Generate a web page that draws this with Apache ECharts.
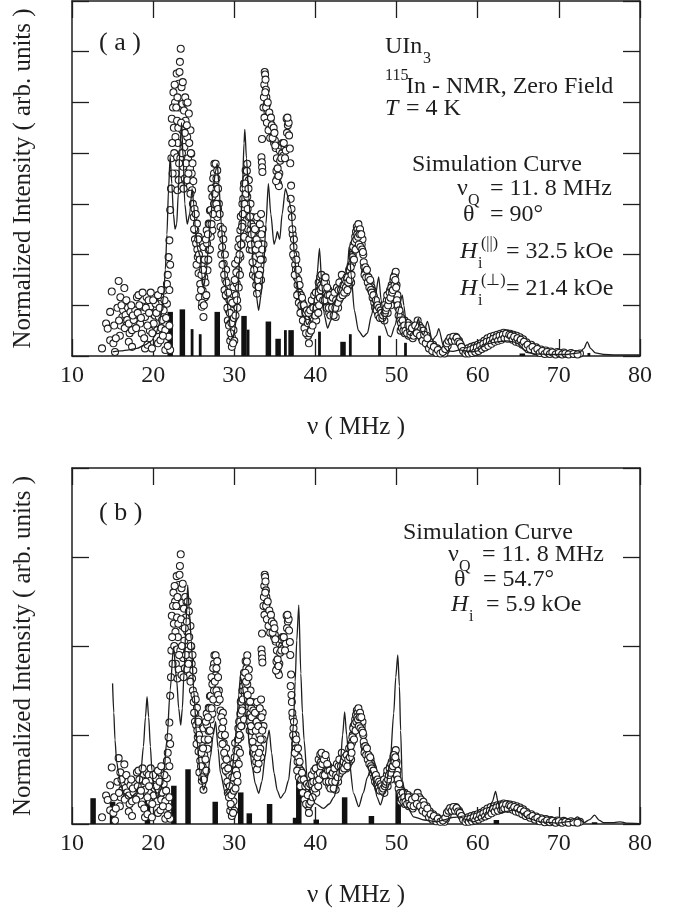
<!DOCTYPE html>
<html>
<head>
<meta charset="utf-8">
<script src="https://cdn.jsdelivr.net/npm/echarts@6/dist/echarts.min.js"></script>
<style>
html,body{margin:0;padding:0;background:#fff;}
#chart{width:682px;height:915px;}
</style>
</head>
<body>
<div id="chart"></div>
<script>
// ---------- DATA ----------
const xTicks = [10, 20, 30, 40, 50, 60, 70, 80];

// Experimental 115In zero-field NMR spectrum (frequency MHz, intensity in panel-(a) units), sweep 1
const expPoints = [
[13.7,0.15],[14.2,0.64],[14.4,0.54],[14.7,0.31],[14.7,0.87],[14.9,1.27],[15.1,0.25],[15.3,0.08],[15.6,0.95],[15.75,1.48],[15.9,0.4],[15.96,1.16],
[16.0,0.6],[16.2,0.77],[16.3,0.9],[16.45,1.34],[16.5,0.55],[16.6,0.81],[16.8,0.71],[16.9,0.95],[17.0,0.64],[17.0,0.28],[17.1,0.45],[17.2,0.87],
[17.4,0.51],[17.4,0.18],[17.6,0.71],[17.8,0.9],[18.0,1.16],[18.2,1.2],[18.4,0.64],[18.6,0.44],[18.8,0.97],[18.9,0.35],[19.0,0.77],[19.0,0.15],
[19.2,1.16],[19.3,0.22],[19.45,1.1],[19.6,0.5],[19.65,0.97],[19.85,0.84],[19.85,0.15],[20.07,0.64],[20.2,0.8],[20.3,1.03],[20.5,0.51],[20.6,0.25],
[20.7,0.77],[20.9,1.16],[20.9,0.31],[21.0,0.55],[21.1,0.71],[21.3,0.9],[21.3,1.29],[21.5,0.51],[21.5,0.12],[21.7,1.42],[21.7,1.03],[21.9,1.95],
[21.9,0.38],[22.0,2.28],[22.1,2.88],[22.1,0.12],
[22.2,3.3],[22.25,3.9],[22.3,4.68],[22.5,5.2],[22.6,4.0],[22.7,5.0],[22.75,4.32],[22.8,3.6],[22.9,5.57],[22.95,4.64],[22.95,3.92],[23.0,3.27],
[23.05,4.2],[23.15,5.37],[23.15,3.47],[23.25,4.9],[23.3,5.8],[23.35,3.9],[23.4,6.06],[23.5,5.3],[23.5,3.35],[23.6,4.97],[23.6,4.45],[23.7,3.73],
[23.8,4.84],[23.85,4.12],[23.9,3.5],[24.0,4.64],[24.1,5.0],[24.2,4.32],[24.2,3.47],[24.3,3.9],[24.4,4.78],[24.4,3.79],[24.5,3.34],[24.55,3.7],
[24.6,4.45],[24.7,3.99],[24.75,3.6],[24.8,3.27],[24.9,3.0],[25.0,2.74],[25.1,2.9],[25.15,2.3],[25.2,2.48],[25.3,2.22],[25.4,2.61],[25.45,2.1],
[25.5,1.95],[25.6,1.63],[25.6,2.35],[25.7,1.16],[25.8,1.42],[26.0,1.82],[26.0,0.97],[26.1,1.29],[26.2,0.77],[26.2,2.15],[26.3,1.55],[26.4,1.16],
[26.6,1.88],[26.6,2.48],[26.65,2.22],[26.7,1.69],[26.85,2.61],[26.85,2.09],[27.0,2.87],[27.1,2.88],[27.1,2.35],[27.3,3.14],[27.3,2.48],[27.5,3.6],
[27.5,3.0],[27.55,3.79],[27.7,3.79],[27.7,3.34],[27.9,3.66],[27.9,2.74],[28.1,3.0],[28.3,2.55],
[28.5,2.15],[28.6,2.5],[28.7,1.82],[28.8,1.3],[28.9,1.5],[29.0,1.7],[29.1,1.17],[29.2,0.7],[29.3,0.9],[29.4,1.1],[29.5,0.64],[29.5,0.3],
[29.6,0.9],[29.7,0.38],[29.7,0.18],[29.8,0.7],[29.9,0.51],[29.9,1.36],[30.0,0.3],[30.1,1.03],[30.1,1.82],[30.2,1.2],[30.3,1.43],[30.4,0.95],
[30.5,2.15],[30.5,1.69],[30.6,2.3],[30.75,2.48],[30.75,1.95],[30.9,2.2],[31.0,3.0],[31.0,2.61],[31.1,3.1],[31.2,3.4],[31.2,2.35],[31.3,2.9],
[31.4,3.66],[31.5,3.5],[31.6,3.79],[31.6,3.14],[31.7,2.5],[31.8,3.47],[31.8,2.74],[31.9,2.1],[32.0,3.0],[32.0,2.48],[32.1,2.6],[32.2,2.74],
[32.2,2.09],[32.3,1.6],[32.4,2.35],[32.4,1.82],[32.5,2.2],[32.6,1.95],[32.6,1.56],[32.7,1.4],[32.8,2.74],[32.8,1.23],[32.9,1.8],[33.0,2.48],
[33.0,1.36],[33.1,2.0],[33.2,2.22],[33.2,1.69],[33.3,2.8],[33.3,1.5],[33.35,3.92],[33.4,3.82],[33.43,3.72],[33.47,3.63],[33.42,4.28],[33.5,2.5],
[33.5,1.9],[33.6,2.2],
[33.6,4.9],[33.7,5.35],[33.75,5.6],[33.8,5.55],[33.85,5.45],[33.9,5.25],[33.95,5.1],[34.0,4.95],[34.05,5.0],[34.1,4.8],[34.15,4.65],[34.25,4.75],
[34.35,4.6],[34.45,4.65],[34.55,4.5],[34.65,4.4],[34.8,4.35],[34.9,4.2],[35.0,4.25],[35.1,4.1],[35.2,3.65],[35.3,3.5],[35.4,3.4],[35.5,3.35],
[35.55,3.6],[35.6,4.05],[35.75,4.15],[35.9,4.0],[36.05,3.95],[36.2,4.1],[36.35,4.05],[36.45,4.68],[36.6,4.55],[36.7,4.6],[36.85,4.09],[37.0,3.36],
[37.1,2.74],[37.2,2.4],[37.3,2.15],[37.4,1.95],[37.5,1.8],[37.55,2.0],[37.6,1.7],[37.7,1.55],[37.8,1.4],[37.9,1.5],[38.0,1.25],[38.1,1.1],
[38.2,1.2],[38.3,0.95],[38.4,1.05],[38.5,0.85],[38.6,0.9],[38.7,0.7],[38.8,0.6],[38.9,0.75],[39.0,0.5],[39.1,0.4],[39.2,0.25],[39.3,0.55],
[39.4,0.65],[39.5,0.8],[39.6,0.95],[39.7,0.75],[39.8,1.05],[39.9,0.85],[40.0,1.0],[40.1,0.7],[40.2,0.9],[40.3,1.2],[40.4,1.45],[40.5,1.3],
[40.6,1.56],[40.7,1.4],[40.8,1.2],[40.9,1.5],[41.0,1.3],[41.1,1.55],[41.2,1.25],[41.3,1.45],[41.4,1.17],[41.5,1.0],[41.6,1.3],[41.7,0.85],
[41.8,1.1],[41.9,0.95],[42.0,1.2],[42.1,0.8],[42.2,1.05],[42.3,0.9],[42.4,1.15],[42.5,0.77],[42.6,1.0],[42.7,1.25],[42.8,0.95],[42.9,1.1],
[43.0,1.3],[43.1,1.45],[43.2,1.25],[43.3,1.5],[43.4,1.35],[43.5,1.56],[43.6,1.3],[43.7,1.45],[43.8,1.25],[43.9,1.5],[44.0,1.35],[44.1,1.55],
[44.2,1.4],[44.3,1.6],[44.4,1.45],[44.5,1.82],[44.6,2.0],[44.7,2.2],[44.8,2.1],[44.9,2.35],[45.0,2.45],[45.1,2.55],[45.2,2.5],[45.3,2.6],
[45.4,2.45],[45.5,2.5],[45.6,2.35],[45.7,2.2],[45.8,2.3],[45.9,2.0],[46.0,1.76],[46.1,1.65],[46.2,1.7],[46.3,1.6],[46.4,1.55],[46.5,1.5],
[46.6,1.45],[46.7,1.4],[46.8,1.45],[46.9,1.36],[47.0,1.3],[47.1,1.25],[47.2,1.17],[47.3,1.1],[47.4,1.0],[47.5,1.05],[47.6,0.95],[47.7,0.85],
[47.8,0.9],[47.9,0.8],[48.0,0.85],[48.1,0.77],[48.2,0.82],[48.3,0.9],[48.4,0.9],[48.5,0.7],[48.6,1.0],[48.8,1.1],[48.9,0.85],[49.0,1.2],
[49.2,1.3],[49.3,1.0],[49.4,1.4],[49.6,1.5],[49.7,1.2],[49.8,1.6],[49.9,1.66],[50.0,1.4],[50.1,1.2],[50.2,0.95],[50.4,0.85],[50.5,0.5],
[50.6,0.75],[50.8,0.6],[51.0,0.7],[51.0,0.45],[51.2,0.55],[51.4,0.65],[51.5,0.4],[51.6,0.5],[51.8,0.6],[52.0,0.45],[52.0,0.35],[52.2,0.55],
[52.4,0.5],[52.6,0.7],[52.7,0.45],[52.8,0.6],[53.0,0.55],[53.1,0.35],[53.3,0.5],[53.5,0.3],[53.7,0.4],[53.9,0.2],[54.1,0.28],[54.3,0.15],
[54.5,0.22],[54.8,0.1],[55.0,0.15],[55.3,0.06],[55.6,0.1],[55.9,0.05],[56.1,0.12],[56.3,0.2],[56.5,0.28],[56.7,0.33],[56.9,0.36],[57.1,0.35],
[57.3,0.38],[57.5,0.33],[57.7,0.3],[57.9,0.22],[58.1,0.15],[58.4,0.1],[58.6,0.06],[58.8,0.15],[59.0,0.08],[59.2,0.18],[59.4,0.1],[59.6,0.2],
[59.8,0.12],[60.0,0.22],[60.2,0.15],[60.4,0.25],[60.6,0.18],[60.8,0.3],[61.0,0.22],[61.2,0.35],[61.4,0.26],[61.6,0.38],[61.8,0.3],[62.0,0.4],
[62.2,0.32],[62.4,0.42],[62.6,0.35],[62.8,0.44],[63.0,0.37],[63.2,0.46],[63.4,0.4],[63.6,0.45],[63.8,0.38],[64.0,0.44],[64.2,0.36],[64.4,0.42],
[64.6,0.33],[64.8,0.4],[65.0,0.3],[65.2,0.37],[65.4,0.27],[65.6,0.33],[65.8,0.22],[66.0,0.27],[66.3,0.17],[66.6,0.22],[66.9,0.12],[67.2,0.17],
[67.5,0.08],[67.8,0.13],[68.1,0.06],[68.4,0.11],[68.7,0.05],[69.0,0.09],[69.4,0.05],[69.8,0.08],[70.2,0.04],[70.6,0.07],[71.0,0.04],[71.5,0.06],
[72.0,0.04],[72.6,0.05]
];

// Experimental spectrum, overlapping sweep 2 (same units)
const expPointsSweep2 = [
[15.2,0.6],[15.4,0.35],[15.8,0.7],[16.1,1.0],[16.7,1.1],[17.3,1.0],[17.5,0.8],[17.9,0.55],[18.1,0.85],[18.3,1.0],[18.5,0.75],[18.7,1.25],
[19.1,0.95],[19.3,0.6],[19.5,0.85],[19.7,1.25],[19.9,0.45],[20.0,1.1],[20.4,0.85],[20.6,1.2],[20.8,0.95],[21.0,1.3],[21.2,0.4],[21.4,1.1],
[21.6,0.75],[21.8,1.6],[21.8,0.2],[22.0,0.6],[22.0,1.3],[22.1,1.8],
[22.35,4.2],[22.4,3.6],[22.45,4.9],[22.55,4.5],[22.65,5.35],[22.85,4.9],[23.0,5.1],[23.1,4.5],[23.2,3.8],[23.25,5.6],[23.45,4.6],[23.55,4.0],
[23.65,5.4],[23.75,3.3],[23.9,4.4],[23.95,5.1],[24.05,3.8],[24.15,4.55],[24.25,5.0],[24.35,3.6],[24.45,4.2],[24.6,3.2],[24.65,4.0],[24.85,3.8],
[24.95,3.45],[25.05,2.5],[25.25,2.8],[25.35,1.8],[25.55,2.3],[25.65,2.0],[25.75,1.9],[25.9,1.3],[25.95,1.6],[26.05,1.05],[26.15,1.7],[26.25,1.0],
[26.35,1.9],[26.45,1.45],[26.5,2.3],[26.55,1.2],[26.75,2.4],[26.8,1.9],[26.95,2.6],[27.0,2.1],[27.2,3.3],[27.2,2.6],[27.4,2.8],[27.4,3.5],
[27.6,3.2],[27.8,3.5],[27.8,3.0],[28.0,3.3],[28.0,2.9],[28.2,2.8],[28.4,2.4],[28.4,2.0],
[28.55,1.8],[28.65,2.3],[28.75,1.6],[28.85,2.0],[28.95,1.2],[29.05,1.45],[29.15,0.95],[29.25,1.25],[29.35,0.6],[29.45,0.85],[29.55,0.45],[29.65,0.65],
[29.75,1.05],[29.85,0.25],[29.95,0.75],[30.05,1.5],[30.15,0.8],[30.25,1.65],[30.35,1.1],[30.45,1.9],[30.55,1.35],[30.65,2.0],[30.7,1.6],[30.8,2.75],
[30.85,2.2],[30.95,2.55],[31.05,2.8],[31.15,3.3],[31.25,3.0],[31.35,3.4],[31.45,3.2],[31.55,3.65],[31.65,2.9],[31.75,3.3],[31.85,2.3],[31.95,2.75],
[32.05,2.2],[32.15,2.4],[32.25,1.85],[32.35,2.55],[32.45,1.7],[32.55,2.5],[32.65,2.1],[32.75,2.3],[32.85,1.5],[32.95,2.2],[33.05,1.6],[33.15,2.6],
[33.25,1.9],[33.35,2.4],[33.45,2.1],
[33.65,5.1],[33.72,4.7],[33.82,5.2],[33.92,4.9],[34.02,4.6],[34.12,5.0],[34.22,4.45],[34.32,4.8],[34.42,4.3],[34.52,4.7],[34.62,4.55],[34.72,4.3],
[34.85,4.5],[34.95,4.4],[35.05,4.15],[35.15,3.45],[35.25,3.9],[35.35,3.7],[35.45,3.55],[35.65,3.85],[35.8,3.9],[35.95,4.2],[36.1,4.2],[36.25,3.9],
[36.5,4.4],[36.55,4.7],[36.75,4.35],[36.9,3.8],[36.95,3.1],
[37.05,2.9],[37.15,2.5],[37.25,2.0],[37.35,2.3],[37.45,1.6],[37.65,1.9],[37.75,1.2],[37.85,1.7],[37.95,1.05],[38.05,1.4],[38.15,0.85],[38.25,1.0],
[38.35,1.15],[38.45,0.7],[38.55,1.0],[38.65,0.55],[38.75,0.85],[38.85,0.45],[38.95,0.9],[39.05,0.65],[39.15,0.85],[39.25,0.45],[39.35,0.9],[39.45,0.5],
[39.55,1.1],[39.65,0.6],[39.75,0.95],[39.85,1.2],[39.95,0.8],[40.05,1.25],[40.15,0.95],[40.25,1.1],[40.35,0.85],[40.45,1.0],[40.55,1.15],[40.65,1.3],
[40.75,1.6],[40.85,1.35],[40.95,1.1],[41.05,1.45],[41.15,1.1],[41.25,1.55],[41.35,0.95],[41.45,1.35],[41.55,1.2],[41.65,0.95],[41.75,1.2],[41.85,0.8],
[41.95,1.1],[42.05,0.95],[42.15,1.15],[42.25,0.8],[42.35,1.25],[42.45,0.95],[42.55,1.1],[42.65,1.35],[42.75,1.05],[42.85,1.3],[42.95,1.45],[43.05,1.15],
[43.15,1.3],[43.25,1.6],[43.35,1.2],[43.45,1.4],[43.55,1.25],[43.65,1.5],[43.75,1.35],[43.85,1.55],[43.95,1.3],[44.05,1.45],[44.15,1.7],[44.25,1.5],
[44.35,1.75],[44.45,1.6],[44.55,1.95],[44.65,2.15],[44.75,1.9],[44.85,2.25],[44.95,2.1],[45.05,2.3],[45.15,2.4],[45.25,2.35],[45.35,2.2],[45.45,2.4],
[45.55,2.15],[45.65,2.4],[45.75,2.1],[45.85,2.05],[45.95,1.85],
[46.05,1.6],[46.15,1.75],[46.25,1.55],[46.35,1.7],[46.45,1.45],[46.55,1.55],[46.65,1.35],[46.75,1.5],[46.85,1.3],[46.95,1.25],[47.05,1.15],[47.15,1.2],
[47.25,1.05],[47.35,0.95],[47.45,1.1],[47.55,0.9],[47.65,1.0],[47.75,0.8],[47.85,0.95],[47.95,0.75],[48.05,0.9],[48.15,0.85],[48.25,0.75],[48.35,0.8],
[48.45,1.0],[48.55,0.85],[48.65,0.9],[48.75,0.95],[48.85,1.2],[48.95,1.0],[49.05,1.1],[49.15,1.25],[49.25,1.15],[49.35,1.35],[49.45,1.25],[49.55,1.3],
[49.65,1.55],[49.75,1.4],[49.85,1.5],[49.95,1.35],[50.05,1.1],[50.15,1.0],[50.25,0.8],[50.35,0.9],[50.45,0.7],[50.55,0.65],[50.65,0.55],[50.75,0.7],
[50.85,0.5],[50.95,0.6],[51.1,0.5],[51.3,0.45],[51.45,0.6],[51.7,0.42],[51.9,0.55],[52.1,0.4],[52.3,0.6],[52.5,0.45],[52.9,0.4],[53.2,0.3],
[53.4,0.42],[53.6,0.25],[53.8,0.35],[54.0,0.15],[54.2,0.22],[54.4,0.1],[54.6,0.18],[54.9,0.06],[55.1,0.12],[55.4,0.05],[55.7,0.08],[56.0,0.14],
[56.2,0.25],[56.4,0.3],[56.6,0.36],[56.8,0.3],[57.0,0.38],[57.2,0.3],[57.4,0.36],[57.6,0.28],[57.8,0.25],[58.0,0.18],[58.2,0.1],[58.5,0.05],
[58.7,0.1],[58.9,0.05],[59.1,0.12],[59.3,0.06],[59.5,0.15],[59.7,0.08],[59.9,0.17],[60.1,0.1],[60.3,0.2],[60.5,0.14],[60.7,0.24],[60.9,0.17],
[61.1,0.28],[61.3,0.2],[61.5,0.3],[61.7,0.24],[61.9,0.34],[62.1,0.28],[62.3,0.37],[62.5,0.3],[62.7,0.4],[62.9,0.32],[63.1,0.42],[63.3,0.35],
[63.5,0.44],[63.7,0.34],[63.9,0.42],[64.1,0.4],[64.3,0.32],[64.5,0.38],[64.7,0.28],[64.9,0.35],[65.1,0.26],[65.3,0.32],[65.5,0.22],[65.7,0.28],
[65.9,0.18],[66.15,0.22],[66.45,0.14],[66.75,0.18],[67.05,0.1],[67.35,0.14],[67.65,0.06],[67.95,0.1],[68.25,0.04],[68.55,0.08],[68.9,0.04],[69.2,0.07],
[69.6,0.03],[70.0,0.06],[70.4,0.03],[70.8,0.05],[71.2,0.03],[71.8,0.04],[72.3,0.03]
];

// Simulation curve (a): theta = 90 deg
const simCurveA = [
[15.0,0.08],[16.0,0.1],[17.0,0.12],[18.0,0.15],[19.0,0.22],[19.8,0.3],[20.3,0.42],[20.7,0.6],[21.0,0.85],[21.3,1.2],[21.5,1.7],[21.7,2.4],
[21.9,3.3],[22.1,3.94],[22.3,3.4],[22.5,2.8],[22.7,2.5],[22.9,2.6],[23.1,3.2],[23.3,4.1],[23.5,4.6],[23.7,3.9],[23.9,3.0],[24.2,2.6],
[24.5,2.8],[24.8,3.3],[25.0,3.0],[25.2,2.5],[25.5,2.1],[25.8,1.97],[26.0,1.6],[26.2,1.35],[26.5,1.6],[26.8,2.1],[27.1,2.7],[27.4,3.3],
[27.7,3.65],[27.9,3.8],[28.1,3.4],[28.4,2.6],[28.7,1.9],[29.0,1.3],[29.3,0.8],[29.6,0.45],[29.85,0.35],[30.1,0.55],[30.4,1.1],[30.7,2.0],
[31.0,3.3],[31.2,4.2],[31.3,4.47],[31.5,3.9],[31.8,3.1],[32.1,2.3],[32.4,1.7],[32.7,1.2],[33.0,0.9],[33.3,1.2],[33.6,1.7],[33.9,2.6],
[34.2,3.4],[34.5,2.8],[34.9,2.2],[35.1,2.3],[35.3,2.45],[35.6,2.3],[35.9,2.8],[36.3,3.3],[36.7,3.1],[37.0,2.9],[37.2,2.5],[37.4,2.0],
[37.7,1.5],[38.0,1.1],[38.5,0.8],[39.0,0.62],[39.5,0.75],[39.9,1.1],[40.2,1.6],[40.5,2.12],[40.8,1.4],[41.1,0.8],[41.5,0.55],[41.9,0.7],
[42.3,1.0],[42.8,1.25],[43.3,1.45],[43.7,1.6],[44.0,1.85],[44.15,2.15],[44.4,1.6],[44.8,0.9],[45.3,0.5],[45.9,0.38],[46.4,0.45],[46.9,0.8],
[47.4,1.2],[47.8,1.56],[48.1,1.1],[48.5,0.6],[49.0,0.4],[49.3,0.38],[49.8,0.6],[50.3,0.95],[50.7,1.2],[50.9,1.0],[51.3,0.44],[51.8,0.4],
[52.4,0.6],[52.7,0.74],[53.0,0.5],[53.3,0.41],[53.8,0.68],[54.4,0.31],[54.9,0.4],[55.2,0.54],[55.8,0.18],[56.3,0.1],[57.0,0.09],[57.8,0.12],
[58.5,0.1],[59.3,0.08],[60.0,0.1],[60.5,0.18],[61.2,0.24],[62.0,0.27],[62.8,0.29],[63.6,0.3],[64.4,0.28],[65.0,0.24],[65.5,0.16],[66.0,0.07],
[67.0,0.04],[69.0,0.03],[71.0,0.03],[72.5,0.06],[73.1,0.15],[73.5,0.28],[73.9,0.15],[74.5,0.06],[75.5,0.03],[77.0,0.02],[80.0,0.02]
];

// Simulation curve (b): theta = 54.7 deg (panel-(b) units)
const simCurveB = [
[15.0,3.16],[15.15,2.5],[15.3,1.89],[15.5,1.4],[15.75,1.14],[16.0,0.9],[16.4,0.69],[17.2,0.58],[17.8,0.68],[18.2,0.84],[18.5,1.2],[18.8,1.74],
[19.05,2.4],[19.25,2.86],[19.45,2.4],[19.66,1.74],[19.85,1.2],[20.07,0.84],[20.5,0.58],[20.9,0.75],[21.3,1.14],[21.7,1.89],[22.1,3.01],[22.5,3.98],
[22.9,3.23],[23.15,2.6],[23.4,2.22],[23.6,2.6],[23.8,3.38],[24.05,4.5],[24.26,5.37],[24.45,4.8],[24.7,4.13],[25.0,3.0],[25.4,1.89],[25.8,1.14],
[26.2,0.76],[26.6,0.95],[27.06,1.51],[27.4,2.0],[27.7,2.3],[28.0,1.7],[28.3,1.14],[28.9,0.69],[29.3,0.8],[29.7,1.14],[30.0,1.6],[30.3,2.26],
[30.55,2.9],[30.75,3.31],[31.0,3.1],[31.2,2.86],[31.6,2.26],[31.9,1.7],[32.2,1.29],[32.6,0.9],[33.0,0.69],[33.4,0.95],[33.8,1.51],[34.05,1.9],
[34.3,2.11],[34.6,1.6],[34.9,1.14],[35.3,0.75],[35.7,0.58],[36.2,0.7],[36.7,0.99],[37.0,1.5],[37.3,2.26],[37.5,3.2],[37.7,4.13],[37.95,4.92],
[38.2,3.38],[38.4,2.5],[38.6,1.89],[39.0,0.99],[39.5,0.65],[40.0,0.46],[41.0,0.35],[41.7,0.45],[42.3,0.61],[42.8,0.95],[43.1,1.44],[43.35,2.0],
[43.6,2.52],[43.85,2.0],[44.1,1.51],[44.7,0.69],[45.34,0.39],[45.9,0.7],[46.4,1.05],[46.8,1.21],[47.2,0.95],[47.6,0.6],[48.0,0.43],[48.6,0.75],
[49.2,1.36],[49.65,2.49],[49.9,3.3],[50.15,3.8],[50.35,3.1],[50.5,2.1],[50.7,0.99],[51.3,0.39],[52.1,0.16],[53.4,0.09],[55.0,0.05],[56.0,0.1],
[57.0,0.15],[57.8,0.16],[58.6,0.1],[59.5,0.05],[60.5,0.12],[61.2,0.24],[61.8,0.5],[62.2,0.73],[62.5,0.5],[62.8,0.24],[63.4,0.28],[64.5,0.31],
[65.3,0.25],[66.1,0.13],[67.7,0.05],[69.8,0.02],[71.5,0.06],[72.3,0.16],[73.1,0.03],[73.8,0.1],[74.4,0.2],[75.0,0.08],[75.5,0.03],[76.8,0.03],
[77.6,0.05],[78.3,0.02],[80.0,0.01]
];

// Stick spectrum (a): wide and narrow sticks
const barsAWide = [[22.1,0.87],[23.6,0.92],[27.9,0.87],[31.2,0.79],[34.2,0.68],[35.4,0.34],[37.0,0.51],[43.4,0.28],[65.5,0.05]];
const barsANarrow = [[24.8,0.53],[25.8,0.43],[31.7,0.52],[36.3,0.51],[40.5,0.48],[44.3,0.43],[47.9,0.4],[51.1,0.26],[73.7,0.06]];
// Stick spectrum (b)
const barsB = [[12.6,0.58],[15.0,0.5],[19.3,0.61],[22.55,0.86],[24.3,1.23],[27.65,0.5],[30.8,0.71],[31.85,0.24],[34.35,0.45],[37.55,0.14],
[37.95,1.06],[40.1,0.1],[43.6,0.6],[46.9,0.18],[50.2,0.8],[62.3,0.09],[74.4,0.04]];

// ---------- CHART ----------
const FONT = '"Liberation Serif", "Times New Roman", serif';
const INK = '#1e1e1e';
const chart = echarts.init(document.getElementById('chart'), null, {renderer: 'canvas'});
const allExp = expPoints.concat(expPointsSweep2);

function xAx(grid, pos, withLabel) {
  return {
    type: 'value', gridIndex: grid, position: pos, min: 10, max: 80, interval: 10,
    axisLine: {show: true, onZero: false, lineStyle: {color: INK, width: 1.5}},
    axisTick: {show: true, inside: true, length: 17, lineStyle: {color: INK, width: 1.3}},
    axisLabel: {show: withLabel, fontFamily: FONT, fontSize: 24, color: INK, margin: 8},
    splitLine: {show: false},
    name: withLabel ? 'ν ( MHz )' : '',
    nameLocation: 'middle', nameGap: 59,
    nameTextStyle: {fontFamily: FONT, fontSize: 25, color: INK}
  };
}
function yAx(grid, pos, max, interval, withName) {
  return {
    type: 'value', gridIndex: grid, position: pos, min: 0, max: max, interval: interval,
    axisLine: {show: true, onZero: false, lineStyle: {color: INK, width: 1.5}},
    axisTick: {show: true, inside: true, length: 17, lineStyle: {color: INK, width: 1.3}},
    axisLabel: {show: false},
    splitLine: {show: false},
    name: withName ? 'Normalized Intensity ( arb. units )' : '',
    nameLocation: 'middle', nameGap: 36, nameRotate: 90,
    nameTextStyle: {fontFamily: FONT, fontSize: 25, color: INK}
  };
}
function stickSeries(data, xi, yi, w) {
  return {
    type: 'custom', xAxisIndex: xi, yAxisIndex: yi, data: data, clip: true,
    encode: {x: 0, y: 1},
    renderItem: function (params, api) {
      const p0 = api.coord([api.value(0), 0]);
      const p1 = api.coord([api.value(0), api.value(1)]);
      return {type: 'rect', shape: {x: p0[0] - w / 2, y: p1[1], width: w, height: p0[1] - p1[1]},
              style: {fill: '#111'}};
    }
  };
}
function scatterSeries(xi, yi) {
  return {
    type: 'scatter', xAxisIndex: xi, yAxisIndex: yi, data: allExp,
    symbol: 'circle', symbolSize: 7,
    itemStyle: {color: '#fff', borderColor: INK, borderWidth: 1.05, opacity: 1}
  };
}
function lineSeries(data, xi, yi) {
  return {
    type: 'line', xAxisIndex: xi, yAxisIndex: yi, data: data, showSymbol: false,
    smooth: 0.25, smoothMonotone: 'x',
    lineStyle: {color: INK, width: 1.3}
  };
}
function txt(x, y, text, size, italic) {
  return {
    type: 'text', x: x, y: y, z: 100,
    style: {
      text: text, fill: INK,
      font: (italic ? 'italic ' : '') + size + 'px ' + FONT,
      textAlign: 'left', textVerticalAlign: 'middle', align: 'left', verticalAlign: 'middle'
    }
  };
}

const option = {
  animation: false,
  backgroundColor: '#fff',
  grid: [
    {left: 72, right: 42, top: 1, height: 355},
    {left: 72, right: 42, top: 468, height: 356}
  ],
  xAxis: [xAx(0, 'bottom', true), xAx(0, 'top', false), xAx(1, 'bottom', true), xAx(1, 'top', false)],
  yAxis: [yAx(0, 'left', 7, 1, true), yAx(0, 'right', 7, 1, false), yAx(1, 'left', 8, 2, true), yAx(1, 'right', 8, 2, false)],
  series: [
    stickSeries(barsAWide, 0, 0, 5.5),
    stickSeries(barsANarrow, 0, 0, 2.8),
    scatterSeries(0, 0),
    lineSeries(simCurveA, 0, 0),
    stickSeries(barsB, 2, 2, 5.5),
    scatterSeries(2, 2),
    lineSeries(simCurveB, 2, 2)
  ],
  graphic: [
    // panel (a)
    txt(99, 43, '( a )', 26),
    txt(385, 47, 'UIn', 24), txt(423, 59, '3', 16),
    txt(385, 76, '115', 16), txt(406, 87, 'In - NMR, Zero Field', 24),
    txt(385, 109, 'T', 24, true), txt(400, 109, ' = 4 K', 24),
    txt(412, 165, 'Simulation Curve', 24),
    txt(457, 189, 'ν', 24), txt(468, 201, 'Q', 16), txt(490, 189, '= 11. 8 MHz', 24),
    txt(463, 215, 'θ', 24), txt(490, 215, '= 90°', 24),
    txt(460, 252, 'H', 24, true), txt(478, 264, 'i', 16), txt(481, 244, '(||)', 16), txt(506, 252, '= 32.5 kOe', 24),
    txt(460, 289, 'H', 24, true), txt(478, 301, 'i', 16), txt(481, 281, '(⊥)', 16), txt(506, 289, '= 21.4 kOe', 24),
    // panel (b)
    txt(99, 513, '( b )', 26),
    txt(403, 533, 'Simulation Curve', 24),
    txt(448, 555, 'ν', 24), txt(459, 567, 'Q', 16), txt(482, 555, '= 11. 8 MHz', 24),
    txt(454, 580, 'θ', 24), txt(483, 580, '= 54.7°', 24),
    txt(451, 605, 'H', 24, true), txt(469, 617, 'i', 16), txt(486, 605, '= 5.9 kOe', 24)
  ]
};
chart.setOption(option);
</script>
</body>
</html>
